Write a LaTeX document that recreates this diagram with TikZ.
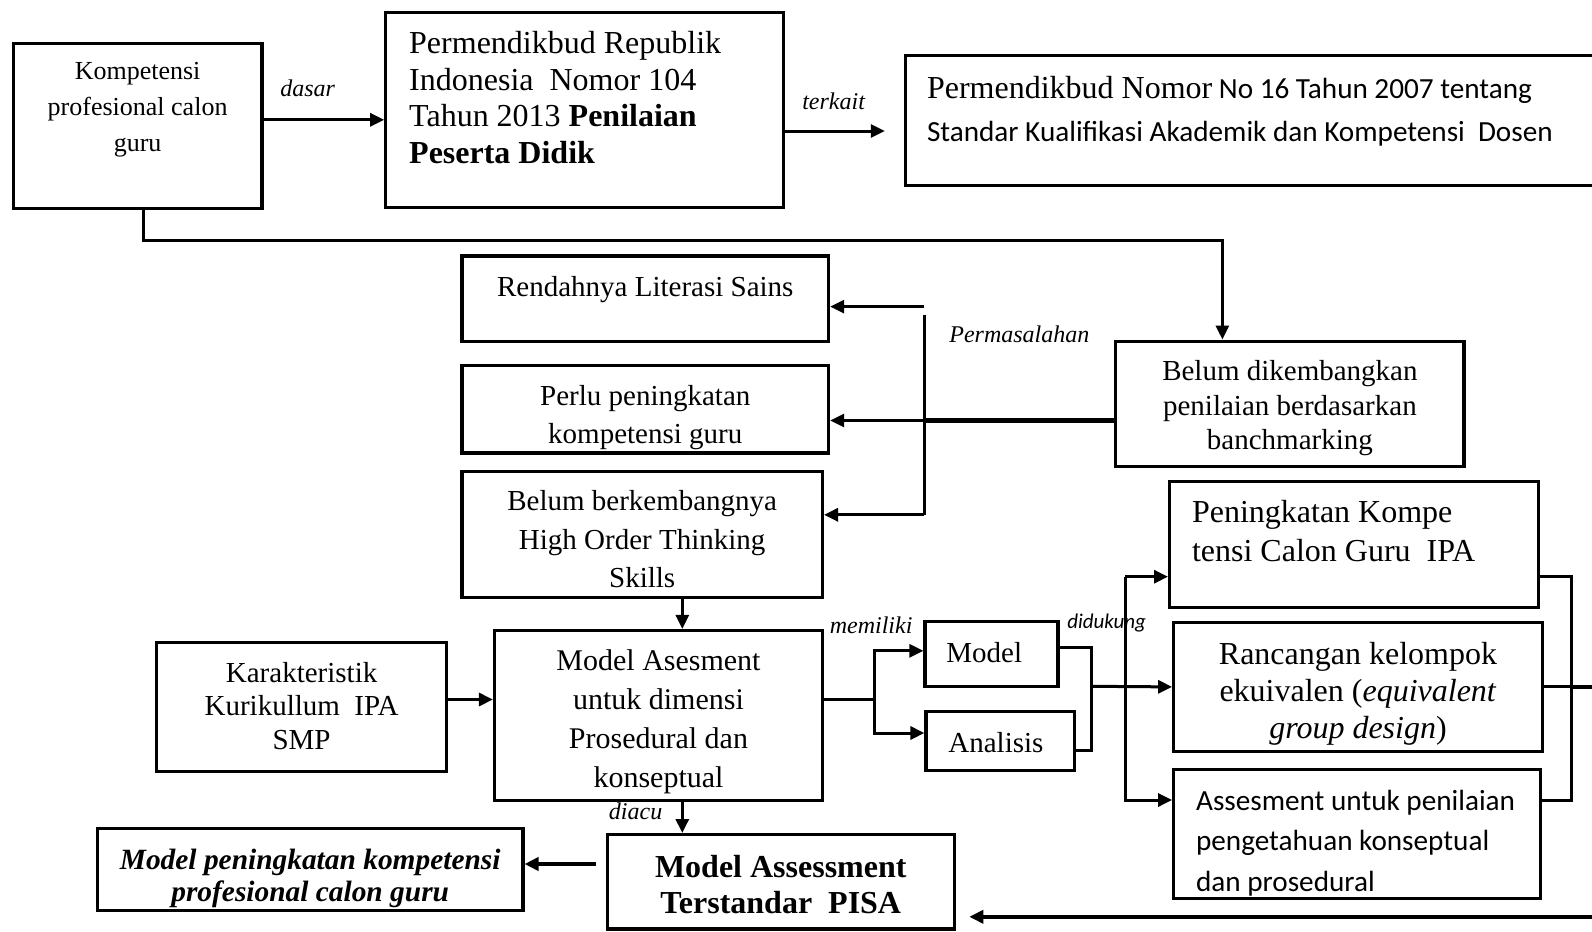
\documentclass[tikz,border=0pt]{standalone}
\usepackage{fontspec}
\setmainfont{Liberation Serif}
\newfontfamily\calibri{Carlito}
\usetikzlibrary{arrows.meta,calc}
\newcommand{\boxtext}[4]{\parbox[c][#2][t]{#1}{\vspace*{#3}#4}}

\begin{document}
\begin{tikzpicture}[x=0.5pt,y=-0.5pt,
  box/.style={draw,line width=1.6pt,inner sep=0pt},
  arrow/.style={-{Triangle[length=7pt,width=6.5pt]},line width=1.5pt},
  link/.style={line width=1.5pt},
  lbl/.style={font=\fontsize{12}{14}\selectfont\itshape,inner sep=0pt}
]
  \useasboundingbox (0,0) rectangle (1592,932);
  \node[box] (komp) at (137.6,125.9) {\boxtext{124.4pt}{82.2pt}{9.2pt}{\centering\fontsize{13}{18}\selectfont Kompetensi\\profesional calon\\guru}};
  \node[box] (perm104) at (584.8,109.7) {\boxtext{199pt}{97.5pt}{9.6pt}{\raggedright\leftskip=11.7pt\fontsize{16}{18.3}\selectfont Permendikbud Republik\\Indonesia\ \ Nomor 104\\Tahun 2013 \textbf{Penilaian}\\\textbf{Peserta Didik}}};
  \node[box] (perm16) at (1252.8,120.8) {\boxtext{347.2pt}{65pt}{10.2pt}{\raggedright\leftskip=10.7pt\calibri\fontsize{14.6}{21.3}\selectfont{\rmfamily\fontsize{16}{21.3}\selectfont Permendikbud Nomor} No 16 Tahun 2007 tentang\\Standar Kualifikasi Akademik dan Kompetensi\ \ Dosen}};
  \node[box] (rend) at (645.3,298.5) {\boxtext{183.3pt}{42.6pt}{10.1pt}{\centering\fontsize{14.5}{19.3}\selectfont Rendahnya Literasi Sains}};
  \node[box] (perlu) at (645.3,409.2) {\boxtext{183.3pt}{43.7pt}{9.7pt}{\centering\fontsize{14.5}{19.3}\selectfont Perlu peningkatan\\kompetensi guru}};
  \node[box] (hots) at (642.2,534.1) {\boxtext{180.2pt}{63pt}{9.6pt}{\centering\fontsize{14.5}{19.3}\selectfont Belum berkembangnya\\High Order Thinking\\Skills}};
  \node[box] (belum) at (1289.9,403.6) {\boxtext{174.1pt}{62.5pt}{9.7pt}{\centering\fontsize{14.5}{17.3}\selectfont Belum dikembangkan\\penilaian berdasarkan\\banchmarking}};
  \node[box] (karak) at (301.6,707.2) {\boxtext{145.2pt}{64.5pt}{9.6pt}{\centering\fontsize{14.5}{16.75}\selectfont Karakteristik\\Kurikullum\ \ IPA\\SMP}};
  \node[box] (masess) at (658.5,715.3) {\boxtext{164pt}{84.8pt}{9.5pt}{\centering\fontsize{15}{19.5}\selectfont Model Asesment\\untuk dimensi\\Prosedural dan\\konseptual}};
  \node[box] (model) at (991.5,653.9) {\boxtext{66.5pt}{32.5pt}{10.6pt}{\raggedright\leftskip=10.7pt\fontsize{14.5}{17}\selectfont Model}};
  \node[box] (analisis) at (1000.1,741.2) {\boxtext{74.1pt}{29.5pt}{10.1pt}{\raggedright\leftskip=11.2pt\fontsize{14.5}{17}\selectfont Analisis}};
  \node[box] (pening) at (1353.9,544.2) {\boxtext{184.3pt}{62.9pt}{9.6pt}{\raggedright\leftskip=11.2pt\fontsize{16}{19.3}\selectfont Peningkatan Kompe\\tensi Calon Guru\ \ IPA}};
  \node[box] (rancang) at (1358,686.9) {\boxtext{184.3pt}{64.5pt}{10.1pt}{\centering\fontsize{16}{18.5}\selectfont Rancangan kelompok\\ekuivalen (\textit{equivalent}\\\textit{group design})}};
  \node[box] (assess) at (1357,834.1) {\boxtext{183.3pt}{64.5pt}{10.1pt}{\raggedright\leftskip=11.2pt\calibri\fontsize{14.6}{20.3}\selectfont Assesment untuk penilaian\\pengetahuan konseptual\\dan prosedural}};
  \node[box] (pisa) at (780.8,881.8) {\boxtext{173.7pt}{47.2pt}{10.1pt}{\centering\bfseries\fontsize{16}{18.3}\selectfont Model Assessment\\Terstandar\ \ PISA}};
  \node[box] (mpk) at (310.2,869.6) {\boxtext{212.7pt}{41.1pt}{10.1pt}{\centering\bfseries\itshape\fontsize{14.7}{16.2}\selectfont Model peningkatan kompetensi\\profesional calon guru}};

  \node[lbl] (dasar) at (307.6,88.3) {dasar};
  \node[lbl] (terkait) at (833.6,101.5) {terkait};
  \node[lbl] (masalah) at (1019.4,334) {Permasalahan};
  \node[lbl] (diacu) at (635.6,811.2) {diacu};
  \node[lbl] (memiliki) at (871.1,625.4) {memiliki};
  \node[lbl,font=\calibri\itshape\fontsize{10.5}{12}\selectfont] (didukung) at (1106.6,623.4) {didukung};

  \draw[arrow] (komp.east |- 0,119.8) -- (perm104.west |- 0,119.8);
  \draw[arrow,shorten >=9.6pt] (perm104.east |- 0,131) -- (perm16.west |- 0,131);
  \draw[arrow] (komp.south -| 143.2,0) |- (1222.4,240.6) -- (belum.north -| 1222.4,0);

  \coordinate (rendin) at (924,306.6);
  \coordinate (busT) at (924,314.7);
  \coordinate (busM) at (924,420.5);
  \coordinate (busB) at (924,514.8);
  \draw[arrow] (rendin) -- (rend.east |- rendin);
  \draw[link] (busT) -- (busB);
  \draw[arrow] (busB) -- (hots.east |- busB);
  \draw[link,line width=2.6pt] (belum.west |- busM) -- (busM);
  \draw[arrow] (busM) -- (perlu.east |- busM);

  \draw[arrow] (hots.south -| 682.3,0) -- (masess.north -| 682.3,0);
  \draw[arrow] (masess.south -| 682.3,0) -- (pisa.north -| 682.3,0);
  \draw[arrow] (karak.east |- 0,699.5) -- (masess.west |- 0,699.5);
  \draw[arrow,line width=2.4pt,shorten <=5pt] (pisa.west |- 0,864) -- (mpk.east |- 0,864);

  \coordinate (fork) at (874.2,699.5);
  \draw[link] (masess.east |- fork) -- (fork);
  \draw[arrow] (fork) |- (model.west |- 0,650.8);
  \draw[arrow] (fork) |- (analisis.west |- 0,733);
  \coordinate (merge) at (1091.4,686.3);
  \draw[link] (model.east |- 0,647.8) -| (merge);
  \draw[link] (analisis.east |- 0,750.3) -| (merge);
  \draw[arrow] (merge) -- (rancang.west);

  \coordinate (bus2T) at (1125,576.7);
  \coordinate (bus2B) at (1125,800);
  \draw[arrow] (bus2T) -- (bus2B) -- (assess.west |- bus2B);
  \draw[arrow] (bus2T) -- (pening.west |- bus2T);

  \coordinate (colT) at (1571.7,576.7);
  \coordinate (colB) at (1571.7,800);
  \coordinate (edgeR) at (1600,686.9);
  \coordinate (edgeB) at (1600,916.8);
  \draw[link] (pening.east |- colT) -- (colT) -- (colB) -- (assess.east |- colB);
  \draw[link] (rancang.east) -- (colT |- rancang.east);
  \draw[link,line width=2.4pt] (colT |- rancang.east) -- (edgeR);
  \draw[arrow,line width=2pt,shorten >=6.6pt] (edgeB) -- (pisa.east |- edgeB);
\end{tikzpicture}
\end{document}
